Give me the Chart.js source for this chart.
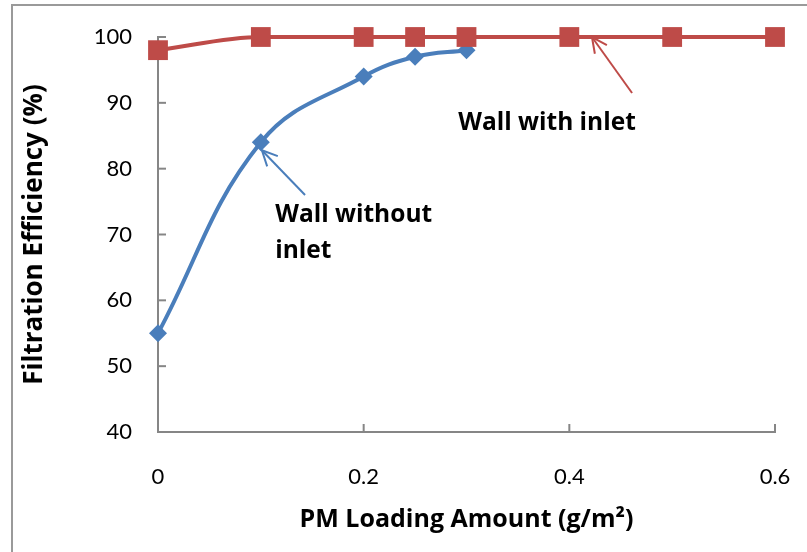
<!DOCTYPE html>
<html>
<head>
<meta charset="utf-8">
<script src="https://cdn.jsdelivr.net/npm/chart.js@4/dist/chart.umd.min.js"></script>
<style>
    html, body { margin: 0; padding: 0; background: #fff; }
    #wrap { width: 807px; height: 552px; position: relative; }
</style>
</head>
<body>
<div id="wrap"><canvas id="pm-chart" width="807" height="552"></canvas></div>
<script>
// PM loading (g/m2) vs filtration efficiency (%)
const withoutInletX = [0, 0.1, 0.2, 0.25, 0.3];
const withoutInletY = [55, 84, 94, 97, 98];
const withInletX = [0, 0.1, 0.2, 0.25, 0.3, 0.4, 0.5, 0.6];
const withInletY = [98, 100, 100, 100, 100, 100, 100, 100];
const xTicks = [0, 0.2, 0.4, 0.6];
const yTicks = [40, 50, 60, 70, 80, 90, 100];

const BLUE = '#4a7ebb';
const RED = '#be4b48';
const AXIS = '#868686';
const FONT = 'Lato, "Open Sans", sans-serif';
const BOLD = '"Open Sans", "Liberation Sans", sans-serif';

function toPoints(xs, ys) {
    return xs.map((x, i) => ({ x: x, y: ys[i] }));
}

// frame, inner tick marks and the two callouts
const extras = {
    id: 'extras',
    beforeDraw(chart) {
        const ctx = chart.ctx;
        ctx.save();
        ctx.strokeStyle = '#9a9a9a';
        ctx.lineWidth = 2;
        ctx.strokeRect(12, 5, 900, 900);
        ctx.restore();
    },
    afterDatasetsDraw(chart) {
        const ctx = chart.ctx;
        const xs = chart.scales.x, ys = chart.scales.y;
        const area = chart.chartArea;
        ctx.save();
        ctx.strokeStyle = AXIS;
        ctx.lineWidth = 2;
        xTicks.forEach(v => {
            const px = xs.getPixelForValue(v);
            ctx.beginPath(); ctx.moveTo(px, area.bottom); ctx.lineTo(px, area.bottom - 8); ctx.stroke();
        });
        yTicks.forEach(v => {
            const py = ys.getPixelForValue(v);
            ctx.beginPath(); ctx.moveTo(area.left, py); ctx.lineTo(area.left + 8, py); ctx.stroke();
        });

        function arrow(color, tip, tail) {
            const x1 = xs.getPixelForValue(tail[0]), y1 = ys.getPixelForValue(tail[1]);
            const x2 = xs.getPixelForValue(tip[0]), y2 = ys.getPixelForValue(tip[1]);
            const a = Math.atan2(y2 - y1, x2 - x1);
            ctx.strokeStyle = color;
            ctx.lineWidth = 2;
            ctx.beginPath(); ctx.moveTo(x1, y1); ctx.lineTo(x2, y2); ctx.stroke();
            ctx.beginPath();
            ctx.moveTo(x2 - 17 * Math.cos(a - 0.45), y2 - 17 * Math.sin(a - 0.45));
            ctx.lineTo(x2, y2);
            ctx.lineTo(x2 - 17 * Math.cos(a + 0.45), y2 - 17 * Math.sin(a + 0.45));
            ctx.stroke();
        }
        arrow(RED, [0.422, 100], [0.461, 91.5]);
        arrow(BLUE, [0.101, 82.8], [0.143, 76.0]);

        ctx.fillStyle = '#000';
        ctx.font = 'bold 24.5px ' + BOLD;
        ctx.textBaseline = 'alphabetic';
        ctx.textAlign = 'left';
        ctx.fillText('Wall with inlet', xs.getPixelForValue(0.292), ys.getPixelForValue(85.8));
        ctx.fillText('Wall without', xs.getPixelForValue(0.114), ys.getPixelForValue(71.9));
        ctx.fillText('inlet', xs.getPixelForValue(0.114), ys.getPixelForValue(66.4));
        ctx.restore();
    }
};

new Chart(document.getElementById('pm-chart'), {
    type: 'line',
    data: {
        datasets: [
            {
                label: 'Wall with inlet',
                data: toPoints(withInletX, withInletY),
                borderColor: RED,
                backgroundColor: RED,
                borderWidth: 4,
                pointStyle: 'rect',
                pointRadius: 14,
                pointBorderWidth: 0,
                cubicInterpolationMode: 'monotone'
            },
            {
                label: 'Wall without inlet',
                data: toPoints(withoutInletX, withoutInletY),
                borderColor: BLUE,
                backgroundColor: BLUE,
                borderWidth: 4,
                pointStyle: 'rectRot',
                pointRadius: 9,
                pointBorderWidth: 0,
                tension: 0.4
            }
        ]
    },
    options: {
        responsive: false,
        animation: false,
        clip: false,
        layout: { padding: { top: 37, right: 32, left: 0, bottom: 0 } },
        plugins: { legend: { display: false }, tooltip: { enabled: false } },
        scales: {
            x: {
                type: 'linear',
                min: 0, max: 0.6,
                afterBuildTicks: s => { s.ticks = xTicks.map(v => ({ value: v })); },
                afterFit: s => { s.height = 120; s.paddingLeft = 0; s.paddingRight = 0; },
                border: { color: AXIS, width: 2 },
                grid: { display: false, drawTicks: false },
                ticks: { color: '#000', font: { family: FONT, size: 22 }, padding: 32 },
                title: {
                    display: true,
                    text: 'PM Loading Amount (g/m²)',
                    color: '#000',
                    font: { family: BOLD, size: 25, weight: 'bold' },
                    padding: { top: 0, bottom: 17 }
                }
            },
            y: {
                min: 40, max: 100,
                afterBuildTicks: s => { s.ticks = yTicks.map(v => ({ value: v })); },
                afterFit: s => { s.width = 158; s.paddingTop = 0; s.paddingBottom = 0; },
                border: { color: AXIS, width: 2 },
                grid: { display: false, drawTicks: false },
                ticks: { color: '#000', font: { family: FONT, size: 22 }, padding: 26 },
                title: {
                    display: true,
                    text: 'Filtration Efficiency (%)',
                    color: '#000',
                    font: { family: BOLD, size: 26, weight: 'bold' },
                    padding: { top: 19, bottom: 0 }
                }
            }
        }
    },
    plugins: [extras]
});
</script>
</body>
</html>
